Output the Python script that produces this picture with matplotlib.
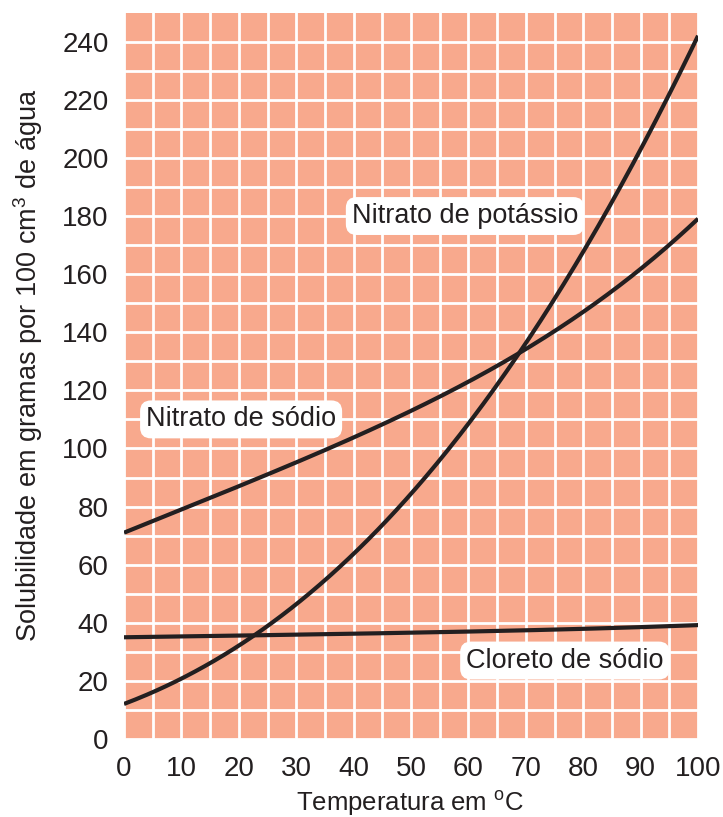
import matplotlib
matplotlib.use("Agg")
import matplotlib.pyplot as plt
import numpy as np

# Data (solubility, g per 100 cm3 water)
temperatura = [0, 10, 20, 30, 40, 50, 60, 70, 80, 90, 100]
nitrato_sodio = [71, 79, 87, 95, 104, 113, 123, 134, 147, 162, 179]
nitrato_potassio = [12, 21, 32, 46, 64, 85, 108, 136, 168, 203, 242]
cloreto_sodio = [35.0, 35.3, 35.6, 35.9, 36.2, 36.6, 37.0, 37.4, 37.9, 38.5, 39.2]

x_ticks = list(range(0, 101, 10))
y_ticks = list(range(0, 241, 20))

plt.rcParams['font.family'] = ['Liberation Sans', 'DejaVu Sans']
plt.rcParams['mathtext.fontset'] = 'custom'
plt.rcParams['mathtext.rm'] = 'Liberation Sans'

bg = "#F8A98D"
ink = "#231F20"

fig = plt.figure(figsize=(7.23, 8.17), dpi=100)
ax = fig.add_axes([0.1715, 0.0955, 0.794, 0.889])
ax.set_facecolor(bg)

# smooth curves through the read points
xs = np.linspace(0, 100, 300)
for serie in (nitrato_sodio, nitrato_potassio, cloreto_sodio):
    coef = np.polyfit(temperatura, serie, 4)
    ax.plot(xs, np.polyval(coef, xs), color=ink, lw=3.0, solid_capstyle='butt', zorder=3)

ax.set_xlim(0, 100)
ax.set_ylim(0, 250)
ax.set_xticks(x_ticks)
ax.set_yticks(y_ticks)
ax.set_xticks(np.arange(5, 100, 5), minor=True)
ax.set_yticks(np.arange(10, 250, 10), minor=True)
ax.grid(which='both', color='white', lw=2.0, zorder=1)
ax.set_axisbelow(True)
ax.tick_params(which='both', length=0, labelsize=20, colors=ink)
ax.tick_params(axis='x', pad=12)
ax.tick_params(axis='y', pad=11)
for s in ax.spines.values():
    s.set_visible(False)

ax.set_xlabel(r"Temperatura em $^{\mathrm{o}}$C", fontsize=18.5, color=ink, va='center')
ax.xaxis.set_label_coords(0.498, -0.088)
ax.set_ylabel(r"Solubilidade em gramas por 100 cm$^{3}$ de água", fontsize=19.5,
              color=ink, va='center')
ax.yaxis.set_label_coords(-0.167, 0.515)

box = dict(boxstyle="round,pad=0.22,rounding_size=0.4", fc="white", ec="none")
ax.text(59.4, 180, "Nitrato de potássio", fontsize=19.5, color=ink, ha='center', va='center', bbox=box, zorder=4)
ax.text(20.4, 110, "Nitrato de sódio", fontsize=19.5, color=ink, ha='center', va='center', bbox=box, zorder=4)
ax.text(76.8, 27, "Cloreto de sódio", fontsize=19.5, color=ink, ha='center', va='center', bbox=box, zorder=4)

plt.savefig("out.png", dpi=100)
